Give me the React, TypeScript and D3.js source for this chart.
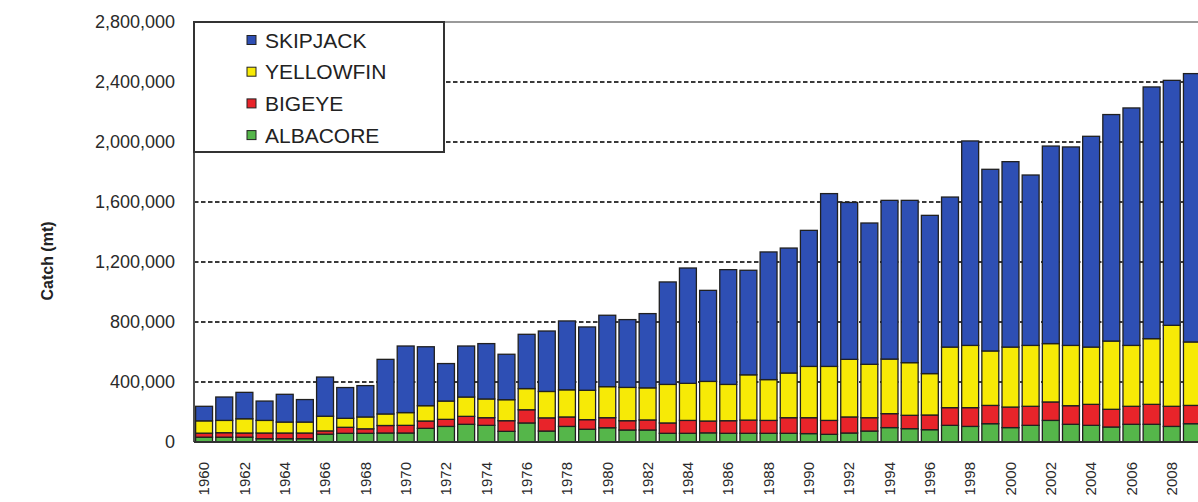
import React from "react";
import * as d3 from "d3";

const years: number[] = d3.range(1960, 2010);

const albacore = [32,32,32,22,22,22,52,58,58,60, 60,91,104,118,111,71,127,73,104,85, 95,80,80,58,58,61,58,58,58,58, 56,51,60,73,96,89,82,111,104,122, 96,111,144,118,111,100,118,118,104,122].map(v => v * 1000);
const bigeye = [27,30,28,38,38,38,22,40,30,50, 51,49,47,53,51,71,88,88,63,64, 67,62,67,69,86,79,84,88,86,104, 106,93,107,89,93,89,98,118,125,122, 137,127,123,124,140,118,120,133,134,122].map(v => v * 1000);
const yellowfin = [82,82,95,84,73,73,98,60,79,77, 85,102,122,129,125,140,141,176,181,196, 207,222,214,257,247,264,242,302,272,298, 342,360,384,356,364,351,276,404,415,363, 400,406,389,402,382,455,406,438,540,423].map(v => v * 1000);
const skipjack = [97,156,176,129,185,150,261,205,209,364, 444,393,250,340,369,303,362,403,459,422, 476,452,495,683,769,607,765,697,851,833, 907,1152,1046,942,1058,1082,1055,1000,1363,1211, 1236,1136,1317,1323,1405,1510,1583,1678,1633,1789].map(v => v * 1000);

const seriesKeys = ["albacore", "bigeye", "yellowfin", "skipjack"];
const seriesColors: Record<string, string> = {
  skipjack: "#2e4fb4",
  yellowfin: "#f7ea06",
  bigeye: "#e8242a",
  albacore: "#55b64a",
};
const legendItems = [
  { key: "skipjack", label: "SKIPJACK" },
  { key: "yellowfin", label: "YELLOWFIN" },
  { key: "bigeye", label: "BIGEYE" },
  { key: "albacore", label: "ALBACORE" },
];
const yTicks = [0, 400000, 800000, 1200000, 1600000, 2000000, 2400000, 2800000];
const xTickYears = years.filter(y => y % 2 === 0);

const W = 1198;
const H = 502;
const FONT = "'Liberation Sans', Arial, Helvetica, sans-serif";

export default function App() {
  const rows = years.map((yr, i) => ({
    year: yr,
    albacore: albacore[i],
    bigeye: bigeye[i],
    yellowfin: yellowfin[i],
    skipjack: skipjack[i],
  }));
  const stacked = d3.stack<any>().keys(seriesKeys)(rows);

  const left = 194;
  const top = 22;
  const bottom = 442;
  const x = d3.scaleBand<number>().domain(years).range([left, 1202]).paddingInner(0.16).paddingOuter(0.08);
  const y = d3.scaleLinear().domain([0, 2800000]).range([bottom, top]);
  const fmt = d3.format(",");

  return (
    <div style={{ position: "absolute", left: 0, top: 0 }}>
      <svg width={W} height={H} style={{ display: "block", background: "#fff" }} fontFamily={FONT}>
        {/* gridlines */}
        {yTicks.filter(t => t > 0 && t < 2800000).map(t => (
          <line key={t} x1={left} x2={W} y1={y(t)} y2={y(t)} stroke="#3a3a3a" strokeWidth={1.8} strokeDasharray="4.5,2.5" />
        ))}
        {/* top border */}
        <line x1={left} x2={W} y1={y(2800000)} y2={y(2800000)} stroke="#9a9a9a" strokeWidth={2} />
        {/* bars */}
        {stacked.map(s => (
          <g key={s.key} fill={seriesColors[s.key]}>
            {s.map((d: any) => (
              <rect
                key={d.data.year}
                x={x(d.data.year)}
                y={y(d[1])}
                width={x.bandwidth()}
                height={Math.max(0, y(d[0]) - y(d[1]))}
                stroke="#202020"
                strokeWidth={1.3}
              />
            ))}
          </g>
        ))}
        {/* axes */}
        <line x1={left} x2={left} y1={top} y2={bottom} stroke="#505050" strokeWidth={2} />
        <line x1={left} x2={W} y1={bottom} y2={bottom} stroke="#303030" strokeWidth={2} />
        {yTicks.map(t => (
          <text key={t} x={175} y={y(t)} dy="0.35em" textAnchor="end" fontSize={18} fill="#2a2a2a">
            {fmt(t)}
          </text>
        ))}
        {xTickYears.map(yr => (
          <text
            key={yr}
            transform={`translate(${(x(yr) as number) + x.bandwidth() / 2},462) rotate(-90)`}
            dy="0.35em"
            textAnchor="end"
            fontSize={15}
            fill="#2a2a2a"
          >
            {yr}
          </text>
        ))}
        <text transform="translate(47,261) rotate(-90)" dy="0.35em" textAnchor="middle" fontSize={16} fontWeight="bold" fill="#222">
          Catch (mt)
        </text>
        {/* legend */}
        <rect x={left} y={top} width={250} height={130} fill="#fff" stroke="#333" strokeWidth={2} />
        {legendItems.map((it, i) => (
          <g key={it.key} transform={`translate(0,${40 + i * 31.7})`}>
            <rect x={247} y={-4.5} width={9} height={9} fill={seriesColors[it.key]} stroke="#222" strokeWidth={1} />
            <text x={265} y={0} dy="0.36em" fontSize={21} fill="#222">
              {it.label}
            </text>
          </g>
        ))}
      </svg>
    </div>
  );
}
